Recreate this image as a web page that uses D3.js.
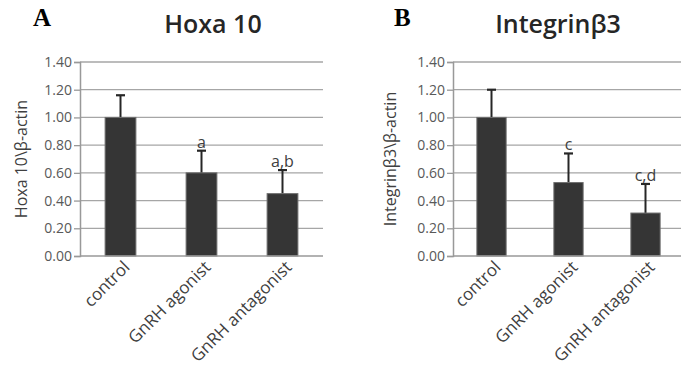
<!DOCTYPE html>
<html>
<head>
<meta charset="utf-8">
<script src="https://cdn.jsdelivr.net/npm/d3@7"></script>
<style>
  body { margin: 0; background: #fff; }
  svg { display: block; }
  text { font-family: "Open Sans", "DejaVu Sans", sans-serif; }
</style>
</head>
<body>
<svg id="chart" width="681" height="370"></svg>
<script>
// categories shared by both panels
const categories = ["control", "GnRH agonist", "GnRH antagonist"];

// panel A - Hoxa 10
const hoxaMeans = [1.00, 0.60, 0.45];
const hoxaErrors = [0.16, 0.16, 0.17];
const hoxaLetters = ["", "a", "a,b"];

// panel B - Integrin beta3
const integrinMeans = [1.00, 0.53, 0.31];
const integrinErrors = [0.20, 0.21, 0.21];
const integrinLetters = ["", "c", "c,d"];

const yTicks = [0, 0.2, 0.4, 0.6, 0.8, 1.0, 1.2, 1.4];

const svg = d3.select("#chart");

function drawPanel(cfg) {
  const width = cfg.width;
  const height = 194;

  const g = svg.append("g")
    .attr("transform", `translate(${cfg.left}, 62)`);

  // set the ranges
  const x = d3.scaleBand()
    .domain(categories)
    .range([0, width])
    .paddingInner(0.62)
    .paddingOuter(0.31);
  const y = d3.scaleLinear().domain([0, 1.4]).range([height, 0]);

  // grid lines
  g.selectAll(".grid")
    .data(yTicks.slice(1))
    .enter().append("line")
    .attr("x1", 0).attr("x2", width)
    .attr("y1", d => y(d)).attr("y2", d => y(d))
    .attr("stroke", "#a6a6a6")
    .attr("stroke-width", 1.3);

  // y axis
  const yAxis = g.append("g")
    .call(d3.axisLeft(y).tickValues(yTicks).tickFormat(d3.format(".2f")).tickSize(6).tickPadding(2));
  yAxis.select(".domain").attr("stroke", "#999").attr("stroke-width", 1.5);
  yAxis.selectAll(".tick line").attr("stroke", "#999").attr("stroke-width", 1.3);
  yAxis.selectAll("text")
    .attr("fill", "#595959")
    .style("font-size", "14px")
    .style("font-family", "'Open Sans', sans-serif");

  // error bars (only upper part shows above bar)
  const err = g.selectAll(".err")
    .data(categories)
    .enter().append("g");
  err.append("line")
    .attr("x1", d => x(d) + x.bandwidth() / 2)
    .attr("x2", d => x(d) + x.bandwidth() / 2)
    .attr("y1", (d, i) => y(cfg.means[i]))
    .attr("y2", (d, i) => y(cfg.means[i] + cfg.errors[i]))
    .attr("stroke", "#262626")
    .attr("stroke-width", 2);
  err.append("line")
    .attr("x1", d => x(d) + x.bandwidth() / 2 - 4.5)
    .attr("x2", d => x(d) + x.bandwidth() / 2 + 4.5)
    .attr("y1", (d, i) => y(cfg.means[i] + cfg.errors[i]))
    .attr("y2", (d, i) => y(cfg.means[i] + cfg.errors[i]))
    .attr("stroke", "#262626")
    .attr("stroke-width", 2.2);

  // bars
  g.selectAll(".bar")
    .data(categories)
    .enter().append("rect")
    .attr("x", d => x(d))
    .attr("y", (d, i) => y(cfg.means[i]))
    .attr("width", x.bandwidth())
    .attr("height", (d, i) => height - y(cfg.means[i]))
    .attr("fill", "#353535")
    .attr("stroke", "#6e6e6e")
    .attr("stroke-width", 1);

  // x axis baseline
  g.append("line")
    .attr("x1", 0).attr("x2", width)
    .attr("y1", height).attr("y2", height)
    .attr("stroke", "#999")
    .attr("stroke-width", 1.5);

  // significance letters
  g.selectAll(".letter")
    .data(categories)
    .enter().append("text")
    .attr("x", d => x(d) + x.bandwidth() / 2)
    .attr("y", (d, i) => y(cfg.means[i] + cfg.errors[i]) - 3)
    .attr("text-anchor", "middle")
    .attr("fill", "#404040")
    .style("font-size", "16px")
    .text((d, i) => cfg.letters[i]);

  // category labels
  g.selectAll(".cat")
    .data(categories)
    .enter().append("text")
    .attr("transform", d => `translate(${x(d) + x.bandwidth() / 2 + 6}, ${height + 8}) rotate(-45)`)
    .attr("text-anchor", "end")
    .attr("dy", "0.35em")
    .attr("fill", "#404040")
    .style("font-size", "17px")
    .text(d => d);

  // y title
  svg.append("text")
    .attr("transform", `translate(${cfg.yTitleX}, ${62 + height / 2}) rotate(-90)`)
    .attr("text-anchor", "middle")
    .attr("dy", "0.35em")
    .attr("fill", "#404040")
    .style("font-size", "16px")
    .text(cfg.yTitle);

  // title
  svg.append("text")
    .attr("x", cfg.titleX)
    .attr("y", 33)
    .attr("text-anchor", "middle")
    .attr("fill", "#262626")
    .style("font-size", "25px")
    .style("font-weight", "600")
    .text(cfg.title);

  // panel letter
  svg.append("text")
    .attr("x", cfg.letterX)
    .attr("y", 26)
    .attr("fill", "#000")
    .style("font-family", "'Liberation Serif', 'DejaVu Serif', serif")
    .style("font-size", "25px")
    .style("font-weight", "bold")
    .text(cfg.panel);
}

drawPanel({
  left: 80, width: 243,
  means: hoxaMeans, errors: hoxaErrors, letters: hoxaLetters,
  title: "Hoxa 10", titleX: 213, panel: "A", letterX: 33,
  yTitle: "Hoxa 10\\β-actin", yTitleX: 21
});

drawPanel({
  left: 453, width: 231,
  means: integrinMeans, errors: integrinErrors, letters: integrinLetters,
  title: "Integrinβ3", titleX: 558, panel: "B", letterX: 394,
  yTitle: "Integrinβ3\\β-actin", yTitleX: 390
});
</script>
</body>
</html>
